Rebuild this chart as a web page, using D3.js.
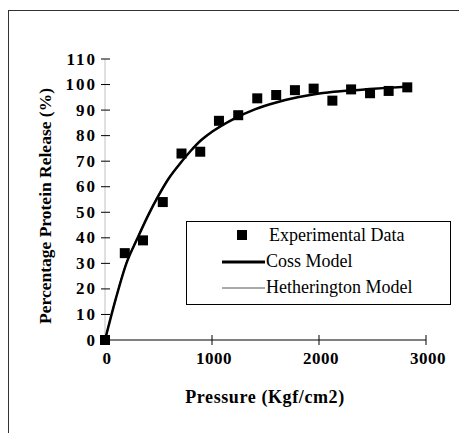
<!DOCTYPE html>
<html>
<head>
<meta charset="utf-8">
<script src="https://cdn.jsdelivr.net/npm/d3@7"></script>
<style>
  body { margin: 0; background: #fff; }
  text { font-family: "Liberation Serif", "Times New Roman", serif; fill: #000; }
</style>
</head>
<body>
<div id="chart"></div>
<script>
// experimental points
var pressure = [0, 185, 355, 540, 715, 890, 1065, 1245, 1423, 1600, 1775, 1950, 2125, 2300, 2477, 2651, 2825];
var release  = [0, 34, 39, 54, 73, 73.7, 85.8, 88, 94.6, 95.9, 97.8, 98.4, 93.7, 98.1, 96.6, 97.5, 98.9];

// model curves
var modelP     = [0, 100, 200, 300, 400, 500, 600, 700, 800, 900, 1000, 1200, 1400, 1600, 1800, 2000, 2200, 2400, 2600, 2850];
var cossModel  = [0, 16, 30, 39.5, 48.5, 56.5, 63.5, 69, 74, 78.3, 81.5, 86.5, 90.3, 93, 95, 96.5, 97.4, 98, 98.6, 99.2];
var hethModel  = [0, 16.5, 30.5, 40, 49, 57, 63.8, 69.3, 74.2, 78.4, 81.6, 86.6, 90.3, 93, 95, 96.4, 97.3, 98, 98.6, 99.2];

var xTicks = [0, 1000, 2000, 3000];
var yTicks = d3.range(0, 111, 10);

var legendLabels = ["Experimental Data", "Coss Model", "Hetherington Model"];

var w = 459, h = 433;

var svg = d3.select("#chart")
  .append("svg")
  .attr("width", w)
  .attr("height", h);

svg.append("rect")
  .attr("width", w).attr("height", h)
  .attr("fill", "#fff");

// outer frame (left and top edges show in the picture)
svg.append("line")
  .attr("x1", 8.5).attr("x2", 8.5).attr("y1", 10).attr("y2", h)
  .attr("stroke", "#333").attr("stroke-width", 1);
svg.append("line")
  .attr("x1", 8).attr("x2", w).attr("y1", 10.5).attr("y2", 10.5)
  .attr("stroke", "#333").attr("stroke-width", 1);

var xScale = d3.scaleLinear()
  .domain([0, 3000])
  .range([105, 426]);

var yScale = d3.scaleLinear()
  .domain([0, 110])
  .range([340, 59]);

// y axis
svg.append("line")
  .attr("x1", xScale(0)).attr("x2", xScale(0))
  .attr("y1", yScale(0)).attr("y2", yScale(110))
  .attr("stroke", "#999").attr("stroke-width", 0.6);

svg.selectAll(".ytick")
  .data(yTicks)
  .enter()
  .append("line")
  .attr("class", "ytick")
  .attr("x1", xScale(0) - 4)
  .attr("x2", xScale(0) + 5)
  .attr("y1", function(d) { return yScale(d); })
  .attr("y2", function(d) { return yScale(d); })
  .attr("stroke", "#000");

svg.selectAll(".ylab")
  .data(yTicks)
  .enter()
  .append("text")
  .attr("class", "ylab")
  .text(function(d) { return d; })
  .attr("x", 97)
  .attr("y", function(d) { return yScale(d) + 5.5; })
  .attr("text-anchor", "end")
  .attr("font-size", "17px")
  .attr("font-weight", "bold")
  .attr("letter-spacing", "2px");

// x axis
svg.append("line")
  .attr("x1", xScale(0)).attr("x2", xScale(3000))
  .attr("y1", yScale(0)).attr("y2", yScale(0))
  .attr("stroke", "#000").attr("stroke-width", 1);

svg.selectAll(".xtick")
  .data(xTicks)
  .enter()
  .append("line")
  .attr("class", "xtick")
  .attr("x1", function(d) { return xScale(d); })
  .attr("x2", function(d) { return xScale(d); })
  .attr("y1", yScale(0) - 5)
  .attr("y2", yScale(0) + 5)
  .attr("stroke", "#000");

svg.selectAll(".xlab")
  .data(xTicks)
  .enter()
  .append("text")
  .attr("class", "xlab")
  .text(function(d) { return d; })
  .attr("x", function(d) { return xScale(d) + 2; })
  .attr("y", 364)
  .attr("text-anchor", "middle")
  .attr("font-size", "17px")
  .attr("font-weight", "bold")
  .attr("letter-spacing", "0.5px");

// axis titles
svg.append("text")
  .text("Pressure (Kgf/cm2)")
  .attr("x", 265)
  .attr("y", 403)
  .attr("text-anchor", "middle")
  .attr("font-size", "18px")
  .attr("font-weight", "bold")
  .attr("letter-spacing", "0.6px");

svg.append("text")
  .text("Percentage Protein Release (%)")
  .attr("transform", "translate(51,206) rotate(-90)")
  .attr("text-anchor", "middle")
  .attr("font-size", "17.5px")
  .attr("font-weight", "bold");

// model lines
var line = d3.line()
  .x(function(d) { return xScale(d[0]); })
  .y(function(d) { return yScale(d[1]); })
  .curve(d3.curveMonotoneX);

svg.append("path")
  .datum(d3.zip(modelP, hethModel))
  .attr("d", line)
  .attr("fill", "none")
  .attr("stroke", "#555")
  .attr("stroke-width", 1);

svg.append("path")
  .datum(d3.zip(modelP, cossModel))
  .attr("d", line)
  .attr("fill", "none")
  .attr("stroke", "#000")
  .attr("stroke-width", 2.5);

// experimental squares
svg.selectAll(".pt")
  .data(d3.zip(pressure, release))
  .enter()
  .append("rect")
  .attr("class", "pt")
  .attr("x", function(d) { return xScale(d[0]) - 5; })
  .attr("y", function(d) { return yScale(d[1]) - 5; })
  .attr("width", 10)
  .attr("height", 10)
  .attr("fill", "#000");

// legend
var lg = svg.append("g");
lg.append("rect")
  .attr("x", 186.5).attr("y", 221.5)
  .attr("width", 264).attr("height", 83)
  .attr("fill", "#fff")
  .attr("stroke", "#000")
  .attr("stroke-width", 1);

lg.append("rect")
  .attr("x", 237).attr("y", 230)
  .attr("width", 10).attr("height", 10)
  .attr("fill", "#000");

lg.append("line")
  .attr("x1", 222).attr("x2", 265)
  .attr("y1", 262).attr("y2", 262)
  .attr("stroke", "#000").attr("stroke-width", 3);

lg.append("line")
  .attr("x1", 222).attr("x2", 265)
  .attr("y1", 288).attr("y2", 288)
  .attr("stroke", "#555").attr("stroke-width", 1);

lg.selectAll(".lgtext")
  .data(legendLabels)
  .enter()
  .append("text")
  .attr("class", "lgtext")
  .text(function(d) { return d; })
  .attr("x", function(d, i) { return i == 0 ? 269 : 266; })
  .attr("y", function(d, i) { return 241 + i * 26; })
  .attr("font-size", "18px");
</script>
</body>
</html>
